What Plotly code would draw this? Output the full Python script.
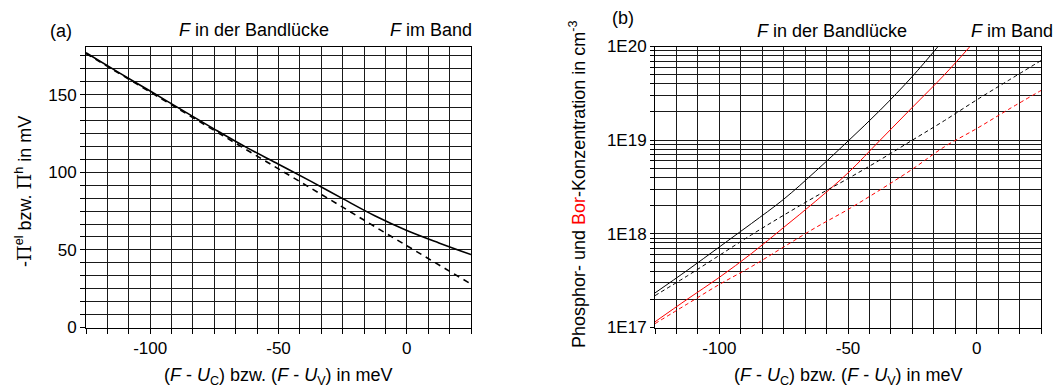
import plotly.graph_objects as go

# ---- data -------------------------------------------------------------
# (a) Peltier coefficient vs. Fermi level position
x_a = [-125, -112.5, -100, -87.5, -75, -62.5, -50, -37.5, -25, -12.5, 0, 12.5, 25]
pi_solid = [177, 164.5, 152.3, 140, 127.8, 116, 105.2, 94.3, 83, 72, 62.5, 54.5, 47]
pi_dashed = [176.5, 164, 151.5, 139.2, 127, 114.5, 102.2, 90, 77.5, 65, 52.5, 40.2, 28]

# (b) phosphorus / boron concentration vs. Fermi level position
x_p_solid = [-125, -112.5, -100, -87.5, -75, -62.5, -50, -37.5, -25, -15]
p_solid = [2.34e17, 4.07e17, 7.24e17, 1.29e18, 2.34e18, 4.68e18, 9.77e18, 2.09e19, 4.79e19, 1.0e20]

x_b_solid = [-125, -112.5, -100, -87.5, -75, -62.5, -50, -37.5, -25, -12.5, -2.6]
b_solid = [1.15e17, 2.0e17, 3.43e17, 6.17e17, 1.17e18, 2.24e18, 4.47e18, 1.0e19, 2.24e19, 5.0e19, 1.0e20]

x_dashed = [-125, -112.5, -100, -87.5, -75, -62.5, -50, -37.5, -25, -12.5, 0, 12.5, 25]
p_dashed = [2.19e17, 3.55e17, 5.89e17, 9.77e17, 1.58e18, 2.51e18, 3.89e18, 6.17e18, 1.0e19, 1.62e19, 2.69e19, 4.37e19, 7.08e19]
b_dashed = [1.10e17, 1.78e17, 2.88e17, 4.47e17, 7.24e17, 1.17e18, 1.82e18, 2.95e18, 4.90e18, 8.51e18, 1.33e19, 2.14e19, 3.39e19]

# axis ticks
x_ticks = [-100, -50, 0]
y_ticks_a = [0, 50, 100, 150]
decade_labels = {1e17: "1E17", 1e18: "1E18", 1e19: "1E19", 1e20: "1E20"}
log_mantissas = [1, 2, 3, 4, 5, 6, 7, 8, 9]

# ---- figure -----------------------------------------------------------
W, H = 1057, 387
FONT = "Liberation Sans, Arial, sans-serif"
GRID = "#1a1a1a"
RED = "#ff0000"

fig = go.Figure()

fig.add_trace(go.Scatter(x=x_a, y=pi_solid, mode="lines", line=dict(color="black", width=1.6, shape="spline"),
                         xaxis="x", yaxis="y", showlegend=False))
fig.add_trace(go.Scatter(x=x_a, y=pi_dashed, mode="lines",
                         line=dict(color="black", width=1.6, dash="6px,5px"),
                         xaxis="x", yaxis="y", showlegend=False))

fig.add_trace(go.Scatter(x=x_p_solid, y=p_solid, mode="lines", line=dict(color="black", width=1, shape="spline"),
                         xaxis="x2", yaxis="y2", showlegend=False))
fig.add_trace(go.Scatter(x=x_b_solid, y=b_solid, mode="lines", line=dict(color=RED, width=1, shape="spline"),
                         xaxis="x2", yaxis="y2", showlegend=False))
fig.add_trace(go.Scatter(x=x_dashed, y=p_dashed, mode="lines",
                         line=dict(color="black", width=1, dash="4px,3px", shape="spline"),
                         xaxis="x2", yaxis="y2", showlegend=False))
fig.add_trace(go.Scatter(x=x_dashed, y=b_dashed, mode="lines",
                         line=dict(color=RED, width=1, dash="4px,3px", shape="spline"),
                         xaxis="x2", yaxis="y2", showlegend=False))


def px(v):
    return v / W


def py(v):
    return 1 - v / H


y_dom = [py(327.5), py(46.5)]
step = 25 / 3

# log grid: every mantissa 1..9 in each decade, labels only on the decades
log_vals = []
log_text = []
for dec in [1e17, 1e18, 1e19]:
    for m in log_mantissas:
        v = m * dec
        log_vals.append(v)
        log_text.append(decade_labels.get(v, ""))
log_vals.append(1e20)
log_text.append(decade_labels[1e20])

common_x = dict(
    range=[-125, 25], tickmode="array", tickvals=x_ticks, ticktext=[str(v) for v in x_ticks],
    ticks="outside", ticklen=5, tickcolor="black", showline=True, linecolor="black", linewidth=1,
    mirror=True, showgrid=True, gridcolor=GRID, gridwidth=1, zeroline=False, automargin=False,
    minor=dict(tick0=-125, dtick=step, ticks="outside", ticklen=5, tickcolor="black",
               showgrid=True, gridcolor=GRID, gridwidth=1),
    tickfont=dict(family=FONT, size=17, color="black"),
)

fig.update_layout(
    width=W, height=H,
    autosize=False,
    margin=dict(l=0, r=0, t=0, b=0, pad=0, autoexpand=False),
    paper_bgcolor="white", plot_bgcolor="white",
    font=dict(family=FONT, size=17, color="black"),
    xaxis=dict(common_x, domain=[px(86), px(471)], anchor="y"),
    yaxis=dict(
        domain=y_dom, anchor="x", range=[0, 181], tickmode="array", tickvals=y_ticks_a,
        ticktext=[str(v) for v in y_ticks_a], automargin=False,
        ticks="outside", ticklen=5, tickcolor="black", showline=True, linecolor="black",
        linewidth=1, mirror=True, showgrid=True, gridcolor=GRID, gridwidth=1, zeroline=False,
        minor=dict(tick0=0, dtick=step, ticks="outside", ticklen=5, tickcolor="black",
                   showgrid=True, gridcolor=GRID, gridwidth=1),
        tickfont=dict(family=FONT, size=17, color="black"),
    ),
    xaxis2=dict(common_x, domain=[px(655), px(1041)], anchor="y2"),
    yaxis2=dict(
        domain=y_dom, anchor="x2", type="log", range=[17, 20], automargin=False,
        tickmode="array", tickvals=log_vals, ticktext=log_text,
        ticks="outside", ticklen=4, tickcolor="black", showline=True, linecolor="black",
        linewidth=1, mirror=True, showgrid=True, gridcolor=GRID, gridwidth=1, zeroline=False,
        tickfont=dict(family=FONT, size=17, color="black"),
    ),
)

x_title = "(<i>F</i> - <i>U</i><sub>C</sub>) bzw. (<i>F</i> - <i>U</i><sub>V</sub>) in meV"
pi = "<span style=\"font-family:'DejaVu Serif'\">Π</span>"

annotations = [
    dict(x=px(61), y=py(31), text="(a)"),
    dict(x=px(254), y=py(30), text="<i>F</i> in der Bandlücke"),
    dict(x=px(431), y=py(30), text="<i>F</i> im Band"),
    dict(x=px(623), y=py(18), text="(b)"),
    dict(x=px(832), y=py(31), text="<i>F</i> in der Bandlücke"),
    dict(x=px(1012), y=py(31), text="<i>F</i> im Band"),
    dict(x=px(278), y=py(376), text=x_title),
    dict(x=px(848), y=py(376), text=x_title),
    dict(x=px(23), y=py(192), text="-" + pi + "<sup>el</sup> bzw. " + pi + "<sup>h</sup> in mV",
         textangle=-90),
    dict(x=px(577), y=py(185),
         text="Phosphor- und <span style='color:#ff0000'>Bor</span>-Konzentration in cm<sup>-3</sup>",
         textangle=-90),
]
for a in annotations:
    a.update(xref="paper", yref="paper", showarrow=False, xanchor="center", yanchor="middle",
             font=dict(family=FONT, size=18, color="black"))
fig.update_layout(annotations=annotations)

fig.write_html("out.html")
